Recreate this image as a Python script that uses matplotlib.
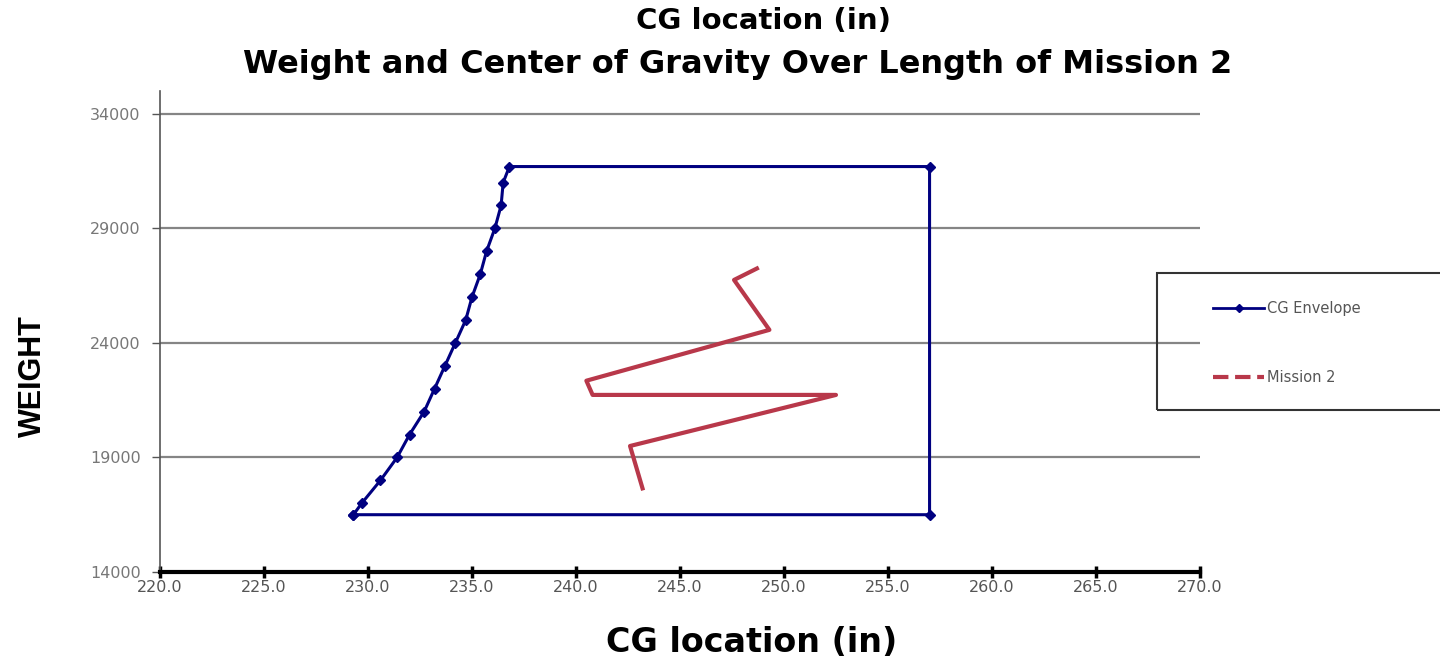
import matplotlib.pyplot as plt
from matplotlib.lines import Line2D
from matplotlib.patches import Rectangle

plt.rcParams['font.family'] = ['DejaVu Sans']

# CG envelope (forward limit, then aft limit closing the box)
env_cg = [229.3, 229.7, 230.6, 231.4, 232.0, 232.7, 233.2, 233.7, 234.2,
          234.7, 235.0, 235.4, 235.7, 236.1, 236.4, 236.5, 236.8,
          257.0, 257.0, 229.3]
env_wt = [16500, 17000, 18000, 19000, 20000, 21000, 22000, 23000, 24000,
          25000, 26000, 27000, 28000, 29000, 30000, 31000, 31700,
          31700, 16500, 16500]

# Mission 2 track
mis_cg = [248.7, 247.6, 249.3, 240.5, 240.8, 252.5, 242.6, 243.2]
mis_wt = [27250, 26750, 24570, 22350, 21730, 21730, 19500, 17650]

xticks = [220, 225, 230, 235, 240, 245, 250, 255, 260, 265, 270]
yticks = [14000, 19000, 24000, 29000, 34000]

fig = plt.figure(figsize=(14.4, 6.64), dpi=100)
ax = fig.add_axes([0.1111, 0.1386, 0.7222, 0.7244])

ax.plot(env_cg, env_wt, color='#000080', lw=2.2, marker='D', ms=5.5,
        label='CG Envelope', zorder=3)
ax.plot(mis_cg, mis_wt, color='#b8384a', lw=3, label='Mission 2', zorder=3)

ax.set_xlim(220, 270)
ax.set_ylim(14000, 35000)
ax.set_xticks(xticks)
ax.set_xticklabels(['%.1f' % v for v in xticks])
ax.set_yticks(yticks)
ax.grid(axis='y', color='#858585', lw=1.6)
ax.set_axisbelow(True)

for s in ['top', 'right']:
    ax.spines[s].set_visible(False)
ax.spines['bottom'].set_linewidth(3)
ax.spines['bottom'].set_color('black')
ax.spines['left'].set_color('#555555')
ax.spines['left'].set_linewidth(1.2)

ax.tick_params(axis='x', direction='inout', length=8, width=2.5,
               labelsize=11.5, labelcolor='#555555', pad=2)
ax.tick_params(axis='y', direction='out', length=6, width=1,
               color='#555555', labelsize=11.5, labelcolor='#777777', pad=8)

ax.set_xlabel('CG location (in)', fontsize=24, fontweight='bold')
ax.xaxis.set_label_coords(0.569, -0.112)
ax.set_ylabel('WEIGHT', fontsize=22, fontweight='bold',
              family=['Liberation Sans', 'DejaVu Sans'])
ax.yaxis.set_label_coords(-0.108, 0.407)

fig.text(0.530, 0.968, 'CG location (in)', ha='center', va='center',
         fontsize=21, fontweight='bold')
fig.text(0.512, 0.903, 'Weight and Center of Gravity Over Length of Mission 2',
         ha='center', va='center', fontsize=23, fontweight='bold')

# legend box running off the right edge
fig.patches.append(Rectangle((1157 / 1440, 1 - 410 / 664), 300 / 1440, 137 / 664,
                             transform=fig.transFigure, fill=False,
                             edgecolor='#333333', lw=1.5))
handles = [Line2D([], [], color='#000080', lw=2, marker='D', ms=4),
           Line2D([], [], color='#b8384a', lw=3, ls='--')]
fig.legend(handles, ['CG Envelope', 'Mission 2'], loc='upper left',
           bbox_to_anchor=(1200 / 1440, 1 - 288 / 664), frameon=False,
           fontsize=10.5, labelcolor='#555555', handlelength=3.5,
           labelspacing=3.7, handletextpad=0.2)

fig.savefig('out.png', dpi=100)
